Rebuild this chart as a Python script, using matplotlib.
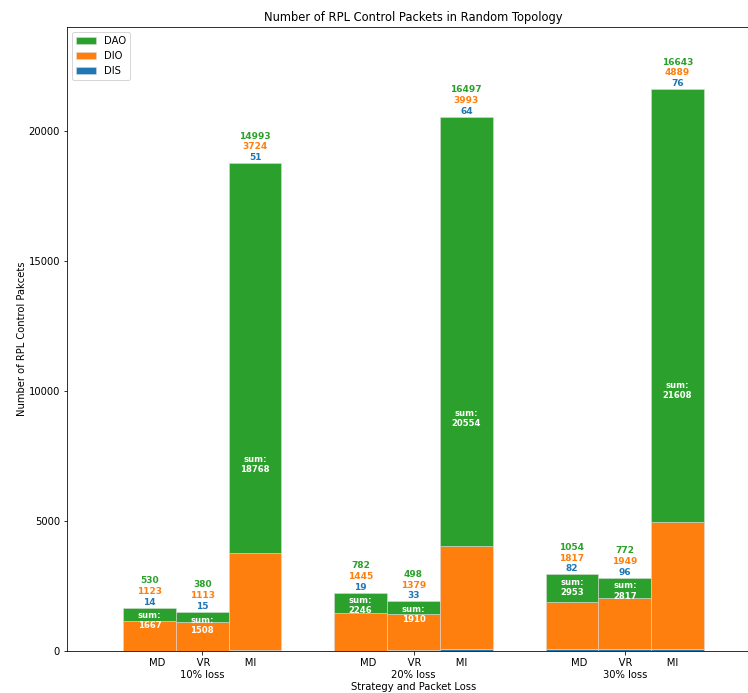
import numpy as np
import matplotlib
matplotlib.use('Agg')
import matplotlib.pyplot as plt

# Packet counts per strategy, grouped by loss rate
loss_levels = ['10% loss', '20% loss', '30% loss']
strategies = ['MD', 'VR', 'MI']
dis = np.array([[14, 15, 51], [19, 33, 64], [82, 96, 76]])
dio = np.array([[1123, 1113, 3724], [1445, 1379, 3993], [1817, 1949, 4889]])
dao = np.array([[530, 380, 14993], [782, 498, 16497], [1054, 772, 16643]])

c_dis, c_dio, c_dao = 'tab:blue', 'tab:orange', 'tab:green'

fig = plt.figure(figsize=(748 / 72, 693 / 72), dpi=72)
ax = fig.add_axes([67 / 748, 42 / 693, 693 / 748, 624 / 693])

width = 0.25
groups = np.arange(len(loss_levels))
for j in range(len(strategies)):
    x = groups + (j - 1) * width
    ax.bar(x, dis[:, j], width, color=c_dis, edgecolor='#dddddd', linewidth=0.5,
           label='DIS' if j == 0 else None)
    ax.bar(x, dio[:, j], width, bottom=dis[:, j], color=c_dio, edgecolor='#dddddd',
           linewidth=0.5, label='DIO' if j == 0 else None)
    ax.bar(x, dao[:, j], width, bottom=dis[:, j] + dio[:, j], color=c_dao,
           edgecolor='#dddddd', linewidth=0.5, label='DAO' if j == 0 else None)

    for i in range(len(loss_levels)):
        total = dis[i, j] + dio[i, j] + dao[i, j]
        # counts stacked above the bar
        for k, (val, col) in enumerate([(dis[i, j], c_dis), (dio[i, j], c_dio), (dao[i, j], c_dao)]):
            ax.annotate(str(val), (x[i], total), xytext=(0, 1 + k * 10.7),
                        textcoords='offset points', ha='center', va='bottom',
                        fontsize=9, fontweight='bold', color=col)
        # total inside the DAO segment
        off = 11600 if total > 10000 else 510
        ax.text(x[i], total - off, f'sum:\n{total}', ha='center', va='center',
                fontsize=8.5, fontweight='bold', color='white', linespacing=1.15)

ax.set_xlim(-0.64, 2.64)
ax.set_ylim(0, 24000)
ax.set_xticks(groups)
ax.set_xticklabels(['MD          VR           MI\n' + l for l in loss_levels])
ax.set_xlabel('Strategy and Packet Loss', labelpad=2)
ax.set_ylabel('Number of RPL Control Pakcets', labelpad=1)
ax.set_title('Number of RPL Control Packets in Random Topology', fontsize=11.5)

handles, labels = ax.get_legend_handles_labels()
order = [labels.index(n) for n in ['DAO', 'DIO', 'DIS']]
ax.legend([handles[o] for o in order], [labels[o] for o in order], loc='upper left')

fig.savefig('out.png', dpi=72)
